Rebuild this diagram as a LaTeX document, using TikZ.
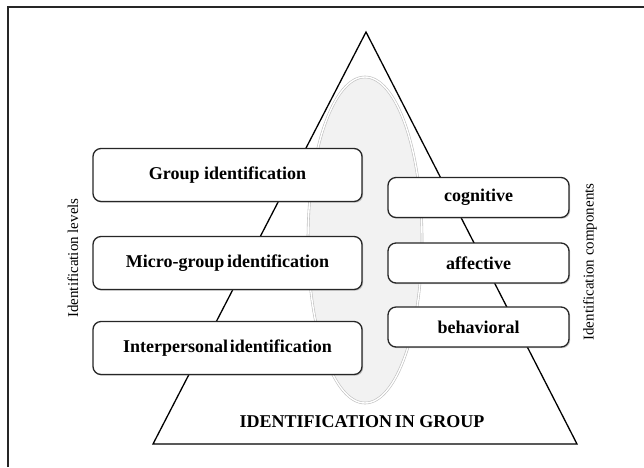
\documentclass[tikz,border=0pt]{standalone}
\usepackage{fontspec}
\setmainfont{Liberation Serif}
\usetikzlibrary{shadows,shapes.geometric}
\begin{document}
\begin{tikzpicture}[x=1pt,y=-1pt,
  boxbase/.style={draw=black!85, line width=1.3pt, rounded corners=8pt, fill=white,
    inner sep=0pt, font=\fontsize{18}{20}\selectfont\bfseries,
    drop shadow={shadow xshift=1.2pt, shadow yshift=-1.2pt, opacity=0.35, fill=black!60}},
  lvlbox/.style={boxbase, minimum width=269pt, minimum height=53pt},
  compbox/.style={boxbase, minimum width=181pt, minimum height=40pt},
  sidelabel/.style={rotate=90, font=\fontsize{15}{17}\selectfont},
  framerule/.style={draw=black!85, line width=1.4pt}]
\useasboundingbox (0,0) rectangle (644,467);
% frame (top and left edges only visible)
\coordinate (fa) at (8,467);
\coordinate (fb) at (8,7);
\coordinate (fc) at (644,7);
\draw[framerule] (fa) -- (fb) -- (fc);
% triangle
\coordinate (apex) at (366,32);
\coordinate (bl) at (153,444);
\coordinate (br) at (577,444);
\draw[line width=1.3pt, line join=miter] (apex) -- (bl) -- (br) -- cycle;
% ellipse
\node (ell) at (365,240) [ellipse, minimum width=114pt, minimum height=326pt, inner sep=0pt,
  fill=black!5, draw=black!25, double=white, double distance=1.4pt, line width=0.6pt] {};
% boxes
\node[lvlbox] (g) at (227.5,175) {Group identification};
\node[lvlbox] (m) at (227.5,263) {Micro-group\hspace{0.15em}identification};
\node[lvlbox] (i) at (227.5,348) {Interpersonal\hspace{0.1em}identification};
\node[compbox] (c) at (478.5,197.5) {cognitive};
\node[compbox] (a) at (478.5,263) {affective};
\node[compbox] (b) at (478.5,327) {behavioral};
% labels
\node[sidelabel] (ll) at (73,258) {Identification levels};
\node[sidelabel] (rl) at (590,262) {Identification components};
\node[font=\fontsize{18}{20}\selectfont\bfseries] (title) at (362,422) {IDENTIFICATION\hspace{0.15em}IN GROUP};
\end{tikzpicture}
\end{document}
